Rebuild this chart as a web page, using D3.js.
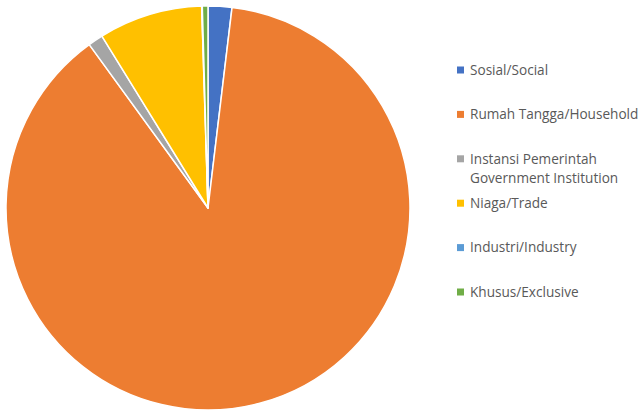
<!DOCTYPE html>
<html>
<head>
<meta charset="utf-8">
<script src="https://cdn.jsdelivr.net/npm/d3@7"></script>
<style>
  html, body { margin: 0; padding: 0; background: #fff; }
  svg { display: block; }
  .legend text { font-family: "Open Sans", sans-serif; font-size: 13.6px; fill: #595959; }
</style>
</head>
<body>
<svg id="chart" width="644" height="414"></svg>
<script>
// Share of customers by category (%)
const categories = [
  "Sosial/Social",
  "Rumah Tangga/Household",
  "Instansi Pemerintah\nGovernment Institution",
  "Niaga/Trade",
  "Industri/Industry",
  "Khusus/Exclusive"
];
const shares = [1.9, 88.1, 1.2, 8.3, 0.05, 0.45];
const colors = ["#4472C4", "#ED7D31", "#A5A5A5", "#FFC000", "#5B9BD5", "#70AD47"];

const data = categories.map((c, i) => ({ name: c, value: shares[i], color: colors[i] }));

const svg = d3.select("#chart");
const cx = 208, cy = 208, radius = 202;

const pie = d3.pie().sort(null).value(d => d.value);
const arc = d3.arc().innerRadius(0).outerRadius(radius);

svg.append("g")
  .attr("transform", `translate(${cx},${cy})`)
  .selectAll("path")
  .data(pie(data))
  .join("path")
  .attr("d", arc)
  .attr("fill", d => d.data.color)
  .attr("stroke", "#fff")
  .attr("stroke-width", 1.5)
  .attr("stroke-linejoin", "round");

// Legend
const legendY = d3.scalePoint().domain(categories).range([70, 292]);
const legend = svg.append("g").attr("class", "legend");
const item = legend.selectAll("g")
  .data(data)
  .join("g")
  .attr("transform", d => `translate(457,${legendY(d.name)})`);

item.append("rect")
  .attr("x", 0).attr("y", -3.5)
  .attr("width", 7).attr("height", 7)
  .attr("fill", d => d.color);

item.append("text")
  .attr("x", 13)
  .attr("y", 0)
  .selectAll("tspan")
  .data(d => d.name.split("\n"))
  .join("tspan")
  .attr("x", 13)
  .attr("dy", (t, i) => i === 0 ? "0.35em" : "1.4em")
  .text(t => t);
</script>
</body>
</html>
